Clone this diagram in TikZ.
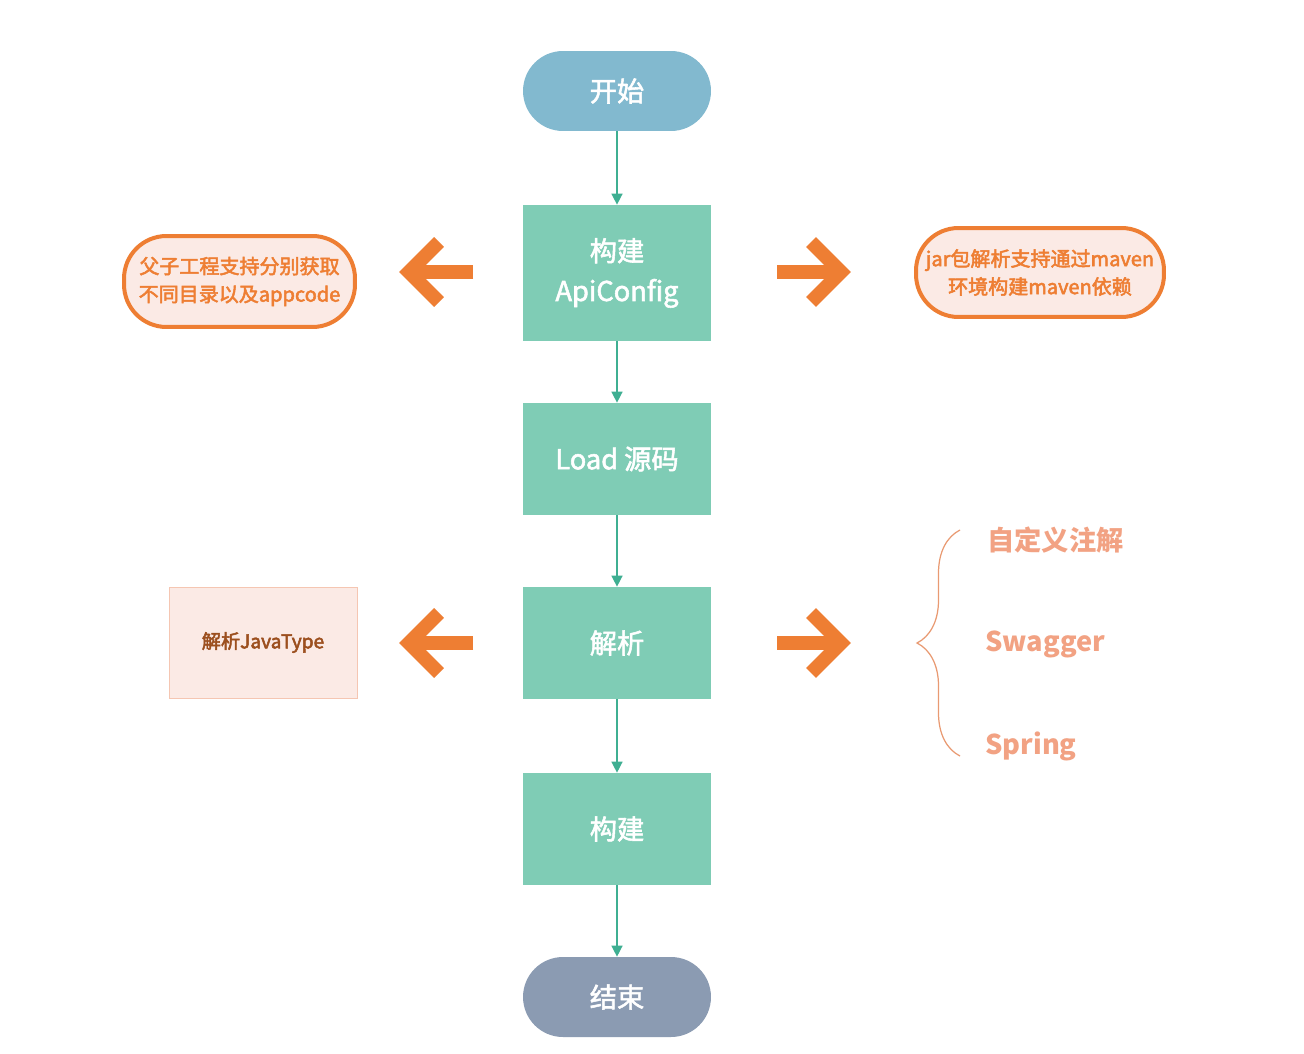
\documentclass[tikz,border=0pt]{standalone}
\usepackage{fontspec}
\setmainfont{Noto Sans CJK SC}
\newfontfamily\mediumfont{Noto Sans CJK SC}[FakeBold=2]
\newfontfamily\heavyfont{Noto Sans CJK SC}[FakeBold=2.6]
\usetikzlibrary{arrows.meta,decorations.pathreplacing}

\definecolor{startblue}{HTML}{82B9CF}
\definecolor{stepgreen}{HTML}{7FCCB5}
\definecolor{endgray}{HTML}{8B9BB2}
\definecolor{linegreen}{HTML}{3FAF92}
\definecolor{noteorange}{HTML}{EE7E33}
\definecolor{notebg}{HTML}{FBEAE5}
\definecolor{typeborder}{HTML}{F5C6B2}
\definecolor{typetext}{HTML}{9C4F1E}
\definecolor{salmon}{HTML}{F2A283}
\definecolor{bracecolor}{HTML}{E99A72}

\begin{document}
\begin{tikzpicture}[
    x=0.02cm, y=-0.02cm,
    flowline/.style={draw=linegreen, line width=0.8pt,
        -{Triangle[length=0.22cm,width=0.22cm]}},
    terminal/.style={rectangle, rounded corners=0.8cm, minimum width=3.76cm,
        minimum height=1.6cm, text=white,
        font=\mediumfont\fontsize{15.5}{22}\selectfont},
    process/.style={rectangle, fill=stepgreen, minimum width=3.76cm,
        minimum height=2.24cm, text=white, align=center,
        font=\mediumfont\fontsize{15.5}{22.7}\selectfont},
    note/.style={rectangle, draw=noteorange, line width=0.08cm, fill=notebg,
        rounded corners=0.85cm, text=noteorange, align=center,
        font=\heavyfont\fontsize{11.4}{15.9}\selectfont},
    bigarrow/.style={draw=noteorange, line width=0.28cm, miter limit=10},
    option/.style={anchor=west, inner sep=0pt, text=salmon,
        font=\bfseries\fontsize{15.5}{18}\selectfont}
]
\fill[white] (0,0) rectangle (1304,1054);
\useasboundingbox (0,0) rectangle (1304,1054);

% main flow
\node (Start) [terminal, fill=startblue] at (617,91) {开始};
\node (BuildConfig) [process, minimum height=2.72cm] at (617,273) {构建\\ApiConfig};
\node (LoadSource) [process] at (617,459) {Load 源码};
\node (Parse) [process] at (617,643) {解析};
\node (Build) [process] at (617,829) {构建};
\node (End) [terminal, fill=endgray] at (617,997) {结束};

\draw[flowline] (Start) -- (BuildConfig);
\draw[flowline] (BuildConfig) -- (LoadSource);
\draw[flowline] (LoadSource) -- (Parse);
\draw[flowline] (Parse) -- (Build);
\draw[flowline] (Build) -- (End);

% notes beside ApiConfig
\node (SubProject) [note, minimum width=4.62cm, minimum height=1.82cm]
    at (239.5,281.5) {父子工程支持分别获取\\不同目录以及appcode};
\node (JarParse) [note, minimum width=4.96cm, minimum height=1.78cm]
    at (1040,272.5) {jar包解析支持通过maven\\环境构建maven依赖};

\draw[bigarrow] (473,272) -- (410,272);
\draw[bigarrow] (439,242) -- (409,272) -- (439,302);
\draw[bigarrow] (777,272) -- (840,272);
\draw[bigarrow] (811,242) -- (841,272) -- (811,302);

% parse details
\node (JavaType) [rectangle, draw=typeborder, fill=notebg, minimum width=3.76cm,
    minimum height=2.22cm, text=typetext,
    font=\heavyfont\fontsize{10.9}{14}\selectfont] at (263,642.5) {解析JavaType};

\draw[bigarrow] (473,643) -- (410,643);
\draw[bigarrow] (439,613) -- (409,643) -- (439,673);
\draw[bigarrow] (777,643) -- (840,643);
\draw[bigarrow] (811,613) -- (841,643) -- (811,673);

\coordinate (BraceBottom) at (960,756);
\coordinate (BraceTop) at (960,530);
\draw[bracecolor, line width=0.7pt, decorate,
    decoration={brace, amplitude=0.86cm}] (BraceBottom) -- (BraceTop);

\node (Annotation) [option] at (987,540) {自定义注解};
\node (Swagger) [option] at (985,644) {Swagger};
\node (Spring) [option] at (985,746) {Spring};

\end{tikzpicture}
\end{document}
